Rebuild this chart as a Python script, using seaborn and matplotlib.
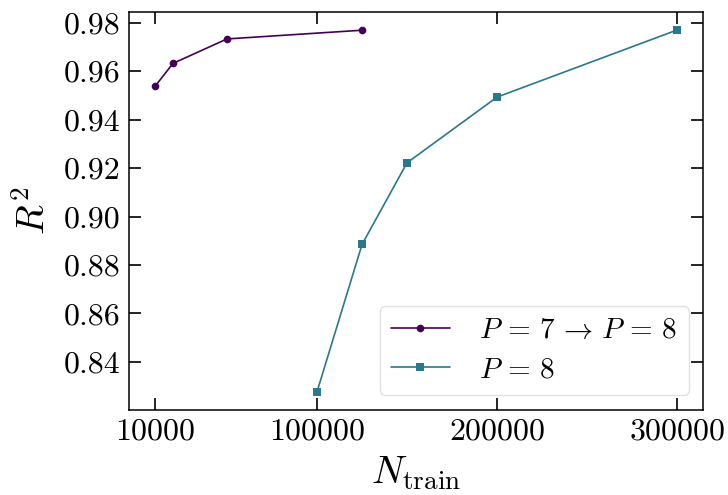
import matplotlib
matplotlib.use("Agg")
import matplotlib.pyplot as plt
import seaborn as sns
import pandas as pd

# Training-set sizes and R^2 scores for the two training schemes
n_transfer = [10000, 20000, 50000, 125000]
r2_transfer = [0.9537, 0.9632, 0.9733, 0.9769]

n_direct = [100000, 125000, 150000, 200000, 300000]
r2_direct = [0.8277, 0.8885, 0.9222, 0.9493, 0.9770]

label_transfer = r"$P\,=\,7\,\rightarrow\,P\,=\,8$"
label_direct = r"$P\,=\,8$"

x_ticks = [10000, 100000, 200000, 300000]
y_ticks = [0.84, 0.86, 0.88, 0.90, 0.92, 0.94, 0.96, 0.98]

color_transfer = "#440154"
color_direct = "#2a788e"

sns.set_style("ticks")
plt.rcParams["font.family"] = "serif"
plt.rcParams["font.serif"] = ["cmr10"]
plt.rcParams["mathtext.fontset"] = "cm"
plt.rcParams["axes.formatter.use_mathtext"] = True
plt.rcParams["text.color"] = "black"
plt.rcParams["axes.labelcolor"] = "black"
plt.rcParams["xtick.color"] = "black"
plt.rcParams["ytick.color"] = "black"

df = pd.concat([
    pd.DataFrame({"N": n_transfer, "R2": r2_transfer, "series": label_transfer}),
    pd.DataFrame({"N": n_direct, "R2": r2_direct, "series": label_direct}),
], ignore_index=True)

fig = plt.figure(figsize=(7.28, 4.95), dpi=100)
ax = fig.add_axes([0.177, 0.172, 0.789, 0.804])

styles = {
    label_transfer: dict(color=color_transfer, marker="o"),
    label_direct: dict(color=color_direct, marker="s"),
}
for name, sub in df.groupby("series", sort=False):
    st = styles[name]
    sns.lineplot(data=sub, x="N", y="R2", ax=ax, label=name,
                 color=st["color"], marker=st["marker"], markersize=5.5,
                 markeredgewidth=0, linewidth=1.2, alpha=1.0)
    ax.lines[-1].set_color(matplotlib.colors.to_rgba(st["color"], 0.85))
    ax.lines[-1].set_markerfacecolor(st["color"])
    ax.lines[-1].set_markeredgecolor(st["color"])

ax.set_xticks(x_ticks)
ax.set_yticks(y_ticks)
ax.set_xticklabels([str(v) for v in x_ticks])
ax.set_yticklabels([f"{v:.2f}" for v in y_ticks])
ax.tick_params(axis="both", which="major", direction="in", length=8.5,
               width=1.2, labelsize=23, top=True, right=True, pad=6,
               colors="black")
for sp in ax.spines.values():
    sp.set_linewidth(1.1)
    sp.set_color("black")

ax.set_xlabel(r"$N_{\mathrm{train}}$", fontsize=28, labelpad=6, color="black")
ax.set_ylabel(r"$R^2$", fontsize=28, labelpad=8, color="black")

leg = ax.legend(loc="lower right", fontsize=21, frameon=True,
                fancybox=True, framealpha=0.8, edgecolor="#d9d9d9",
                handlelength=2.0, handletextpad=1.0, labelspacing=0.45,
                borderaxespad=0.5)
for h in leg.legend_handles:
    h.set_markersize(5.5)
for t in leg.get_texts():
    t.set_color("black")

fig.savefig("out.png", dpi=100)
